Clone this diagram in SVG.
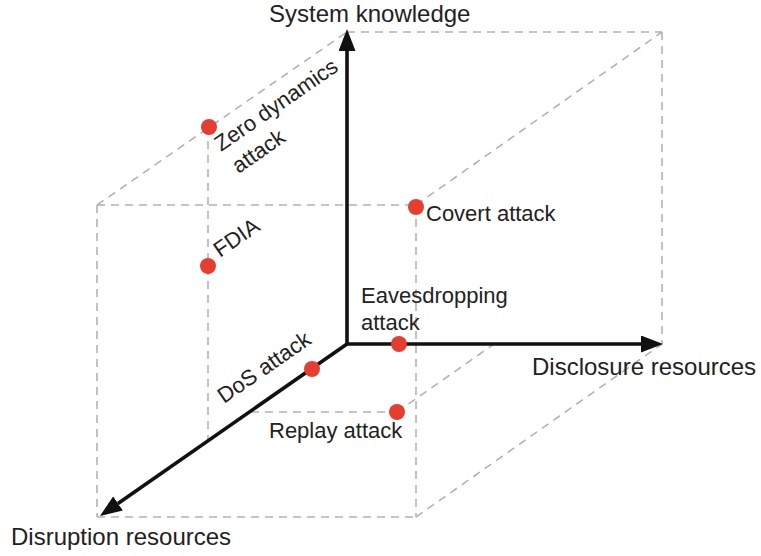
<svg xmlns="http://www.w3.org/2000/svg" width="761" height="556" viewBox="0 0 761 556">
  <style>
    .dash { fill: none; stroke: #b3b3b3; stroke-width: 1.6; stroke-dasharray: 8 6; }
    .axis { fill: none; stroke: #111; stroke-width: 3.6; }
    .dot { fill: #e53d2f; }
    .big { font-family: "Liberation Sans", Arial, sans-serif; font-size: 24px; fill: #222; }
    .lbl { font-family: "Liberation Sans", Arial, sans-serif; font-size: 22px; fill: #222; }
  </style>
  <defs>
    <marker id="arrow" viewBox="0 0 22 17" refX="0" refY="8.5" markerWidth="22" markerHeight="17" markerUnits="userSpaceOnUse" orient="auto-start-reverse">
      <path d="M0,0 L22,8.5 L0,17 z" fill="#111"/>
    </marker>
  </defs>
  <rect width="761" height="556" fill="#fff"/>

  <g id="cube">
    <line class="dash" x1="347" y1="32" x2="662" y2="32"/>
    <line class="dash" x1="662" y1="32" x2="662" y2="344"/>
    <line class="dash" x1="97" y1="205" x2="347" y2="32"/>
    <line class="dash" x1="416" y1="205" x2="662" y2="32"/>
    <line class="dash" x1="416" y1="517" x2="662" y2="344"/>
    <line class="dash" x1="97" y1="205" x2="416" y2="205"/>
    <line class="dash" x1="97" y1="205" x2="97" y2="517"/>
    <line class="dash" x1="97" y1="517" x2="416" y2="517"/>
    <line class="dash" x1="416" y1="205" x2="416" y2="517"/>
    <line class="dash" x1="208" y1="127" x2="208" y2="441"/>
    <line class="dash" x1="251" y1="412" x2="397" y2="412"/>
    <line class="dash" x1="397" y1="412" x2="494" y2="344"/>
  </g>

  <g id="connectors">
    <path class="axis" d="M347,51 L347,344 L641,344" marker-start="url(#arrow)" marker-end="url(#arrow)"/>
    <line class="axis" x1="347" y1="344" x2="118" y2="503.4" marker-end="url(#arrow)"/>
  </g>

  <g id="axis-system-knowledge">
    <text class="big" x="269" y="22">System knowledge</text>
  </g>
  <g id="axis-disclosure-resources">
    <text class="big" x="532" y="375">Disclosure resources</text>
  </g>
  <g id="axis-disruption-resources">
    <text class="big" x="11" y="545">Disruption resources</text>
  </g>

  <g id="zero-dynamics-attack">
    <circle class="dot" cx="209" cy="127" r="8"/>
    <text class="lbl" transform="translate(221,152) rotate(-34.7)"><tspan x="0" y="0">Zero dynamics</tspan><tspan x="2" y="28">attack</tspan></text>
  </g>
  <g id="fdia">
    <circle class="dot" cx="208" cy="266" r="8"/>
    <text class="lbl" transform="translate(220,258) rotate(-34.7)">FDIA</text>
  </g>
  <g id="covert-attack">
    <circle class="dot" cx="416" cy="207" r="8"/>
    <text class="lbl" x="426" y="221">Covert attack</text>
  </g>
  <g id="eavesdropping-attack">
    <circle class="dot" cx="399" cy="344" r="8"/>
    <text class="lbl"><tspan x="361" y="303">Eavesdropping</tspan><tspan x="361" y="330">attack</tspan></text>
  </g>
  <g id="dos-attack">
    <circle class="dot" cx="312" cy="369" r="8"/>
    <text class="lbl" transform="translate(224,404) rotate(-34.7)">DoS attack</text>
  </g>
  <g id="replay-attack">
    <circle class="dot" cx="397" cy="412" r="8"/>
    <text class="lbl" x="269" y="438">Replay attack</text>
  </g>
</svg>
